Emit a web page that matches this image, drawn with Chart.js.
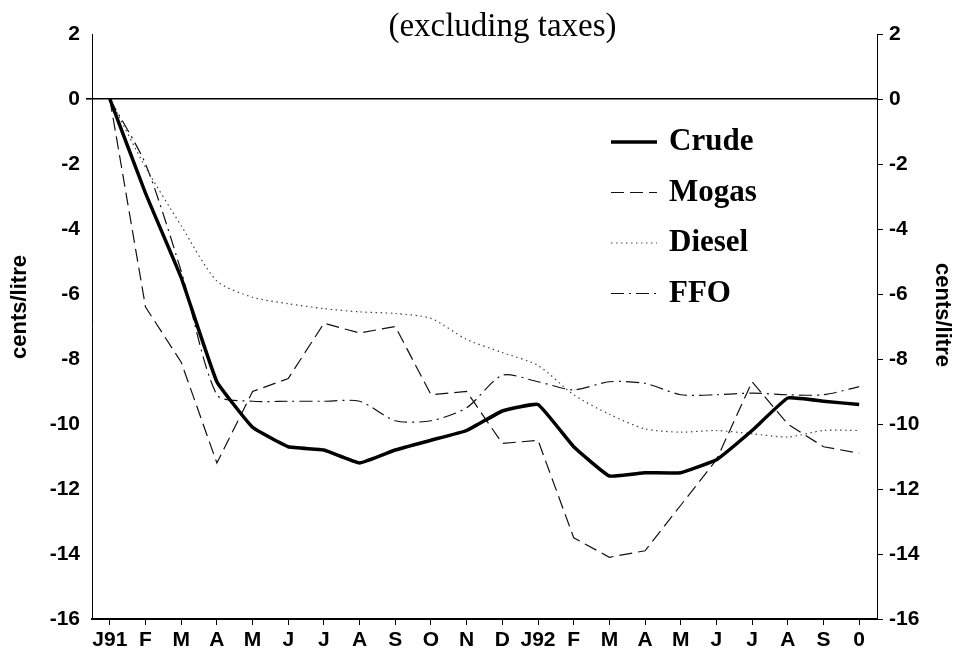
<!DOCTYPE html>
<html>
<head>
<meta charset="utf-8">
<script src="https://cdn.jsdelivr.net/npm/chart.js@4.4.1/dist/chart.umd.min.js"></script>
<style>
  body { margin: 0; background: #fff; }
  #wrap { width: 958px; height: 659px; }
</style>
</head>
<body>
<div id="wrap"><canvas id="myChart"></canvas></div>
<script>
const months = ["J91", "F", "M", "A", "M", "J", "J", "A", "S", "O", "N",
  "D", "J92", "F", "M", "A", "M", "J", "J", "A", "S", "0"];

const crude  = [0, -2.9, -5.5, -8.7, -10.1, -10.7, -10.8, -11.2, -10.8, -10.5, -10.2,
  -9.6, -9.4, -10.7, -11.6, -11.5, -11.5, -11.1, -10.2, -9.2, -9.3, -9.4];
const mogas  = [0, -6.4, -8.1, -11.2, -9.0, -8.6, -6.9, -7.2, -7.0, -9.1, -9.0,
  -10.6, -10.5, -13.5, -14.1, -13.9, -12.5, -11.1, -8.7, -10.0, -10.7, -10.9];
const diesel = [0, -2.1, -3.9, -5.6, -6.1, -6.3, -6.45, -6.55, -6.6, -6.75, -7.4,
  -7.8, -8.2, -9.1, -9.7, -10.15, -10.25, -10.2, -10.3, -10.4, -10.2, -10.2];
const ffo    = [0, -2.0, -5.3, -9.1, -9.3, -9.3, -9.3, -9.3, -9.9, -9.9, -9.5,
  -8.5, -8.7, -8.95, -8.7, -8.75, -9.1, -9.1, -9.05, -9.1, -9.1, -8.85];

const subtitle = "(excluding taxes)";
const yLabel = "cents/litre";

const ctx = document.getElementById("myChart");

const titleAndLegend = {
  id: "titleAndLegend",
  afterDraw(chart) {
    const c = chart.ctx;
    const area = chart.chartArea;
    c.save();
    c.fillStyle = "#000";
    c.font = "33px 'Liberation Serif'";
    c.textAlign = "center";
    c.textBaseline = "alphabetic";
    c.fillText(subtitle, (area.left + area.right) / 2 + 18, 36);

    // axis titles, both sides
    c.font = "bold 22px 'Liberation Sans'";
    c.textBaseline = "middle";
    c.save();
    c.translate(20, 307);
    c.rotate(-Math.PI / 2);
    c.fillText(yLabel, 0, 0);
    c.restore();
    c.save();
    c.translate(942, 315);
    c.rotate(Math.PI / 2);
    c.fillText(yLabel, 0, 0);
    c.restore();

    // legend, upper right of the plot
    const x0 = 611, x1 = 657, tx = 669;
    let y = 142;
    c.textAlign = "left";
    c.font = "bold 31px 'Liberation Serif'";
    chart.data.datasets.forEach((ds) => {
      c.beginPath();
      c.strokeStyle = ds.borderColor;
      c.lineWidth = ds.borderWidth;
      c.setLineDash(ds.borderDash || []);
      c.moveTo(x0, y);
      c.lineTo(x1, y);
      c.stroke();
      c.setLineDash([]);
      c.fillText(ds.label, tx, y);
      y += 50.5;
    });
    c.restore();
  },
};

const axisFont = { family: "'Liberation Sans'", size: 21, weight: "bold" };

new Chart(ctx, {
  type: "line",
  data: {
    labels: months,
    datasets: [
      { label: "Crude", data: crude, borderColor: "#000", borderWidth: 3.5, tension: 0.1 },
      { label: "Mogas", data: mogas, borderColor: "#111", borderWidth: 1.2, borderDash: [13, 6] },
      { label: "Diesel", data: diesel, borderColor: "#444", borderWidth: 1.2, borderDash: [1.5, 3.5], tension: 0.25 },
      { label: "FFO", data: ffo, borderColor: "#111", borderWidth: 1.2, borderDash: [13, 5, 2, 5], tension: 0.25 },
    ],
  },
  options: {
    responsive: true,
    maintainAspectRatio: false,
    animation: false,
    layout: { padding: { top: 34, left: 0, right: 0, bottom: 0 } },
    elements: { point: { radius: 0 }, line: { fill: false } },
    plugins: {
      legend: { display: false },
      tooltip: { enabled: false },
    },
    scales: {
      x: {
        offset: true,
        afterFit: (s) => { s.height = 40; },
        grid: { drawOnChartArea: false, tickLength: 6, color: "#000", offset: false },
        border: { color: "#000", width: 2 },
        ticks: { color: "#000", font: axisFont, padding: 3, maxRotation: 0, autoSkip: false },
      },
      y: {
        position: "left",
        min: -16,
        max: 2,
        afterFit: (s) => { s.width = 92; },
        grid: {
          color: (c) => (c.tick && c.tick.value === 0 ? "#000" : "rgba(0,0,0,0)"),
          lineWidth: (c) => (c.tick && c.tick.value === 0 ? 1.6 : 0),
          tickColor: "#000",
          tickLength: 6,
        },
        border: { color: "#000", width: 1 },
        ticks: { stepSize: 2, color: "#000", font: axisFont, padding: 6 },
      },
      y2: {
        position: "right",
        min: -16,
        max: 2,
        afterFit: (s) => { s.width = 81; },
        grid: { drawOnChartArea: false, tickColor: "#000", tickLength: 6 },
        border: { color: "#000", width: 1 },
        ticks: { stepSize: 2, color: "#000", font: axisFont, padding: 6 },
      },
    },
  },
  plugins: [titleAndLegend],
});
</script>
</body>
</html>
